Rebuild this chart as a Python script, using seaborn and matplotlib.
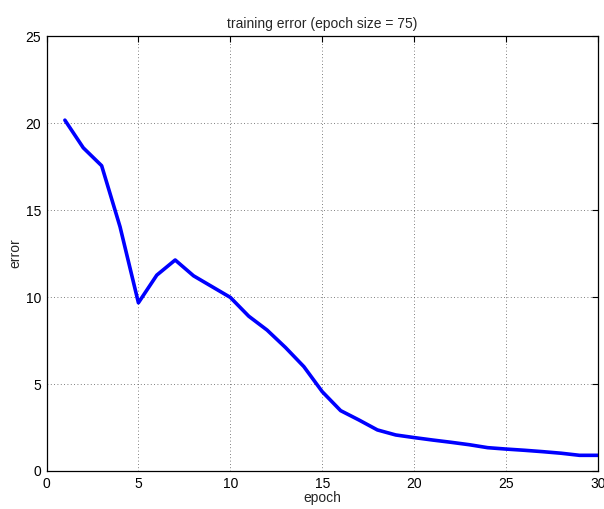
import matplotlib
matplotlib.use("Agg")
import matplotlib.pyplot as plt
import seaborn as sns
import pandas as pd

epochs = list(range(1, 31))
errors = [20.17, 18.58, 17.55, 14.04, 9.67, 11.26, 12.13, 11.22, 10.6, 9.98,
          8.9, 8.1, 7.1, 6.0, 4.56, 3.47, 2.93, 2.36, 2.07, 1.92,
          1.78, 1.65, 1.51, 1.34, 1.26, 1.19, 1.11, 1.02, 0.90, 0.90]
xticks = [0, 5, 10, 15, 20, 25, 30]
yticks = [0, 5, 10, 15, 20, 25]

sns.set_style("white")
plt.rcParams['font.family'] = ['Liberation Sans', 'DejaVu Sans']
plt.rcParams['font.size'] = 10

df = pd.DataFrame({"epoch": epochs, "error": errors})

fig = plt.figure(figsize=(6.04, 5.09), dpi=100)
ax = fig.add_axes([0.077, 0.0747, 0.913, 0.8543])
sns.lineplot(data=df, x="epoch", y="error", color="#0000ff", linewidth=2.6, ax=ax)

ax.set_xlim(0, 30)
ax.set_ylim(0, 25)
ax.set_xticks(xticks)
ax.set_yticks(yticks)
ax.grid(True, linestyle=(0, (1, 3)), color="#555555", linewidth=0.6)
ax.tick_params(direction="in", length=4, width=0.8, colors="black", labelsize=10,
               top=True, right=True, pad=4)
for s in ax.spines.values():
    s.set_color("black")
    s.set_linewidth(0.9)
ax.set_xlabel("epoch", fontsize=10, labelpad=0)
ax.set_ylabel("error", fontsize=10, labelpad=2)
ax.set_title("training error (epoch size = 75)", fontsize=10, pad=6)

fig.savefig("out.png", dpi=100)
